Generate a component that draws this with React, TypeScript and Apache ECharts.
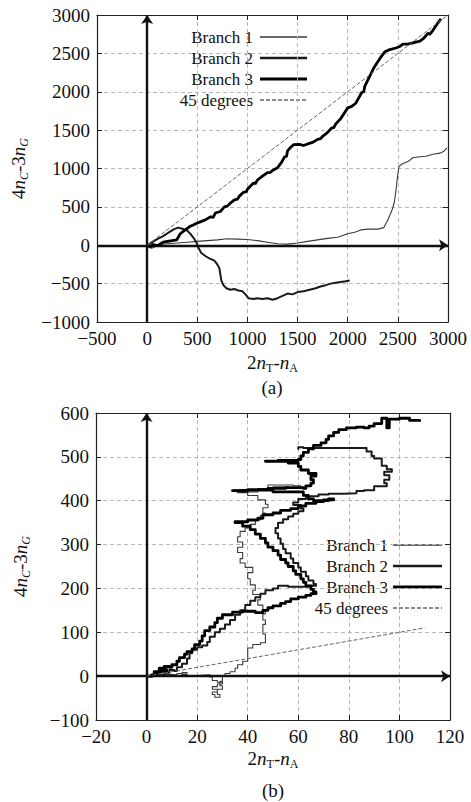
import React, { useEffect, useRef } from "react";
import * as echarts from "echarts";

const SERIF = "Liberation Serif, serif";

const seriesNames = ["Branch 1", "Branch 2", "Branch 3", "45 degrees"];

// ---------- panel (a) ----------
const aXRange = { min: -500, max: 3000, interval: 500 };
const aYRange = { min: -1000, max: 3000, interval: 500 };

const aBranch1 = [
  [0, 0], [20, -20], [45, -40], [80, -20], [120, 10], [200, 20], [300, 30], [400, 40],
  [500, 50], [600, 60], [700, 70], [800, 85], [900, 80], [1000, 75], [1100, 60],
  [1200, 40], [1300, 20], [1400, 15], [1500, 30], [1600, 50], [1700, 70], [1800, 90],
  [1900, 105], [2000, 150], [2070, 170], [2130, 200], [2200, 210], [2300, 210],
  [2360, 230], [2400, 330], [2420, 390], [2445, 470], [2465, 560], [2480, 700],
  [2495, 880], [2510, 1020], [2540, 1060], [2600, 1090], [2650, 1140], [2700, 1150],
  [2780, 1160], [2850, 1185], [2920, 1200], [2960, 1225], [2990, 1270],
];

const aBranch2 = [
  [0, 0], [50, 40], [100, 80], [160, 120], [220, 170], [270, 210], [310, 230],
  [350, 215], [400, 190], [430, 150], [460, 100], [490, 40], [510, -30], [540, -100],
  [580, -140], [620, -170], [670, -200], [700, -250], [720, -300], [730, -380],
  [740, -460], [760, -520], [790, -560], [830, -580], [870, -570], [910, -590],
  [950, -600], [980, -640], [1010, -690], [1060, -700], [1100, -690], [1150, -700],
  [1200, -690], [1250, -710], [1300, -690], [1350, -660], [1400, -630], [1450, -640],
  [1500, -610], [1560, -600], [1620, -580], [1680, -560], [1720, -540], [1780, -520],
  [1830, -500], [1880, -490], [1930, -480], [1980, -470], [2020, -460],
];

const aBranch3 = [
  [0, 0], [30, -20], [60, 10], [100, -5], [160, 40], [220, 55], [295, 70], [330, 150],
  [380, 200], [420, 240], [460, 265], [500, 290], [530, 305], [580, 330], [630, 370],
  [660, 365], [680, 420], [730, 440], [770, 500], [800, 510], [830, 550], [870, 590],
  [900, 600], [920, 640], [960, 690], [990, 700], [1000, 730], [1060, 810], [1080, 805],
  [1100, 850], [1150, 900], [1200, 945], [1230, 950], [1250, 975], [1300, 1010],
  [1340, 1080], [1370, 1150], [1390, 1160], [1400, 1230], [1430, 1275], [1460, 1310],
  [1520, 1315], [1560, 1300], [1600, 1320], [1650, 1340], [1700, 1380], [1730, 1390],
  [1750, 1420], [1800, 1470], [1840, 1530], [1860, 1530], [1880, 1580], [1930, 1650],
  [1970, 1730], [2000, 1790], [2040, 1810], [2080, 1850], [2110, 1920], [2140, 1990],
  [2160, 2000], [2170, 2070], [2200, 2150], [2230, 2230], [2260, 2310], [2290, 2370],
  [2330, 2450], [2370, 2520], [2420, 2550], [2480, 2570], [2520, 2590], [2550, 2620],
  [2600, 2620], [2660, 2640], [2720, 2660], [2760, 2700], [2800, 2760], [2820, 2750],
  [2850, 2800], [2890, 2880], [2930, 2950],
];

const aDiagonal = [[0, 0], [3000, 3000]];

// ---------- panel (b) ----------
const bXRange = { min: -20, max: 120, interval: 20 };
const bYRange = { min: -100, max: 600, interval: 100 };

const bBranch1 = [
  [0, 0], [3, 2], [6, 4], [9, 3], [12, 6], [14, 8], [16, 4], [14, 1], [18, 2], [22, 3],
  [25, -2], [26, -10], [28, -14], [30, -18], [28, -24], [26, -30], [28, -36], [26, -42],
  [27, -48], [29, -42], [28, -30], [30, -22], [29, -12], [30, 0], [31, 6], [33, 10],
  [35, 18], [36, 26], [38, 34], [40, 40], [40, 52], [40, 64], [42, 72], [45, 76],
  [47, 82], [47, 96], [46, 106], [46, 118], [47, 128], [46, 142], [47, 150], [46, 162],
  [44, 174], [45, 186], [42, 196], [43, 208], [41, 222], [40, 236], [42, 248], [39, 258],
  [37, 268], [38, 282], [36, 294], [38, 306], [36, 318], [37, 330], [39, 338], [41, 346],
  [43, 356], [45, 366], [47, 372], [46, 384], [48, 392], [47, 402], [44, 412], [40, 418],
  [36, 420], [44, 428], [50, 432], [56, 430], [61, 434], [58, 436], [52, 436], [48, 428],
];

const bBranch2 = [
  [0, 0], [3, 5], [5, 2], [7, 8], [9, 14], [11, 12], [12, 20], [14, 28], [16, 40],
  [17, 52], [18, 60], [20, 66], [22, 70], [24, 78], [25, 90], [27, 100], [29, 108],
  [31, 118], [33, 128], [35, 140], [37, 150], [39, 162], [41, 172], [43, 180], [45, 188],
  [47, 196], [50, 200], [52, 206], [56, 204], [60, 204], [64, 206], [67, 210], [66, 218],
  [64, 228], [63, 238], [61, 248], [60, 258], [58, 268], [57, 280], [55, 290], [54, 302],
  [53, 314], [52, 326], [51, 338], [52, 350], [54, 358], [56, 364], [58, 370], [60, 376],
  [62, 382], [61, 390], [58, 396], [60, 404], [63, 410], [68, 414], [72, 416], [78, 417],
  [83, 422], [86, 424], [90, 433], [95, 433], [95, 440], [94, 448], [96, 458], [94, 466],
  [97, 472], [95, 480], [93, 486], [93, 496], [90, 502], [89, 512], [87, 520], [72, 520],
  [62, 522], [60, 516],
];

const bBranch3 = [
  [0, 0], [2, 3], [4, 6], [3, 10], [6, 12], [8, 15], [5, 18], [7, 22], [9, 20], [10, 26],
  [12, 34], [13, 42], [15, 50], [16, 56], [18, 62], [19, 72], [21, 80], [22, 92],
  [23, 104], [25, 112], [27, 122], [28, 132], [30, 140], [34, 146], [38, 148], [43, 145],
  [46, 150], [48, 156], [50, 160], [53, 166], [55, 170], [57, 176], [60, 180], [63, 184],
  [65, 188], [67, 192], [66, 198], [65, 206], [63, 214], [62, 222], [61, 232], [59, 240],
  [58, 250], [56, 258], [55, 266], [53, 276], [52, 286], [50, 294], [48, 304], [47, 314],
  [45, 324], [43, 334], [41, 342], [38, 350], [35, 352], [40, 356], [44, 360], [46, 368],
  [50, 372], [53, 378], [57, 382], [60, 388], [63, 394], [67, 398], [70, 402], [74, 404],
  [72, 400], [66, 404], [64, 412], [62, 420], [50, 424], [42, 423], [34, 422], [40, 425],
  [48, 428], [55, 430], [62, 428], [63, 434], [65, 440], [66, 448], [65, 456], [67, 462],
  [64, 470], [61, 478], [60, 486], [56, 490], [47, 490], [52, 492], [60, 494], [61, 502],
  [62, 510], [64, 518], [66, 526], [69, 532], [71, 540], [72, 548], [74, 556], [76, 562],
  [79, 566], [83, 568], [86, 566], [88, 570], [90, 576], [93, 588], [95, 566], [96, 586],
  [100, 588], [104, 583], [108, 580],
];

const bDiagonal = [[0, 0], [110, 110]];

// line looks shared by both panels, in the order of seriesNames
const lineLooks = [
  { color: "#3a3a3a", width: 1.1, type: "solid" },
  { color: "#1a1a1a", width: 2, type: "solid" },
  { color: "#000000", width: 2.8, type: "solid" },
  { color: "#666666", width: 1, type: [4, 2] },
];

const minus = (v: number) => String(v).replace("-", "\u2212");

const subRich = {
  t: { fontFamily: SERIF, fontSize: 19, color: "#111", lineHeight: 24 },
  i: { fontFamily: SERIF, fontSize: 19, fontStyle: "italic", color: "#111", lineHeight: 24 },
  s: { fontFamily: SERIF, fontSize: 12, color: "#111", lineHeight: 12, verticalAlign: "bottom" },
  si: { fontFamily: SERIF, fontSize: 12, fontStyle: "italic", color: "#111", lineHeight: 12, verticalAlign: "bottom" },
};

const xTitle = "{t|2}{i|n}{s|T}{t|-}{i|n}{s|A}";
const yTitle = "{t|4}{i|n}{si|C}{t|-3}{i|n}{si|G}";

const frameLine = { show: true, onZero: false, lineStyle: { color: "#222", width: 1.2 } };
const innerTick = { show: true, inside: true, length: 5, lineStyle: { color: "#222", width: 1 } };
const gridDash = { show: true, lineStyle: { color: "#b8b8b8", type: [4, 3], width: 1 } };
const tickFont = { fontFamily: SERIF, fontSize: 19, color: "#111" };

function xAxes(gridIndex: number, r: any, nameGap: number) {
  return [
    {
      type: "value", gridIndex, position: "bottom", ...r,
      axisLine: frameLine, axisTick: innerTick, splitLine: gridDash,
      axisLabel: { ...tickFont, margin: 7, formatter: minus },
      name: xTitle, nameLocation: "middle", nameGap,
      nameTextStyle: { fontFamily: SERIF, rich: subRich },
    },
    {
      type: "value", gridIndex, position: "top", ...r,
      axisLine: frameLine, axisTick: innerTick, splitLine: { show: false },
      axisLabel: { show: false },
    },
  ];
}

function yAxes(gridIndex: number, r: any, nameGap: number) {
  return [
    {
      type: "value", gridIndex, position: "left", ...r,
      axisLine: frameLine, axisTick: innerTick, splitLine: gridDash,
      axisLabel: { ...tickFont, margin: 7, formatter: minus },
      name: yTitle, nameLocation: "middle", nameGap, nameRotate: 90,
      nameTextStyle: { fontFamily: SERIF, rich: subRich },
    },
    {
      type: "value", gridIndex, position: "right", ...r,
      axisLine: frameLine, axisTick: innerTick, splitLine: { show: false },
      axisLabel: { show: false },
    },
  ];
}

function panelSeries(axisIndex: number, sets: number[][][], step: false | "end", xr: any, yr: any) {
  const zeroAxes = {
    type: "line", xAxisIndex: axisIndex, yAxisIndex: axisIndex, data: [], z: 1, silent: true,
    markLine: {
      silent: true, symbol: ["none", "arrow"], symbolSize: 9, label: { show: false },
      lineStyle: { color: "#111", width: 2.4, type: "solid" },
      emphasis: { disabled: true },
      data: [
        [{ coord: [0, yr.min] }, { coord: [0, yr.max] }],
        [{ coord: [xr.min, 0] }, { coord: [xr.max, 0] }],
      ],
    },
  };
  const lines = sets.map((data, k) => ({
    type: "line", name: seriesNames[k], xAxisIndex: axisIndex, yAxisIndex: axisIndex,
    data, symbol: "none", z: 3 + k, silent: true,
    step: k < 3 ? step : false,
    lineStyle: { ...lineLooks[k], join: "round" },
  }));
  return [zeroAxes, ...lines];
}

function legendGraphic(textRight: number, lineX1: number, lineX2: number, rows: number[]) {
  const out: any[] = [];
  seriesNames.forEach((name, k) => {
    out.push({
      type: "text", x: textRight, y: rows[k], silent: true,
      style: { text: name, fontFamily: SERIF, fontSize: 17, fill: "#111", align: "right", verticalAlign: "middle" },
    });
    out.push({
      type: "line", silent: true,
      shape: { x1: lineX1, y1: rows[k], x2: lineX2, y2: rows[k] },
      style: { stroke: lineLooks[k].color, lineWidth: lineLooks[k].width + 0.4, lineDash: k === 3 ? [4, 2] : null },
    });
  });
  return out;
}

export default function App() {
  const ref = useRef<HTMLDivElement>(null);

  useEffect(() => {
    if (!ref.current) return;
    const chart = echarts.init(ref.current, undefined, { renderer: "svg" });
    chart.setOption({
      animation: false,
      backgroundColor: "#ffffff",
      textStyle: { fontFamily: SERIF },
      grid: [
        { left: 97, top: 15, width: 351, height: 307 },
        { left: 96, top: 413, width: 354, height: 307 },
      ],
      xAxis: [...xAxes(0, aXRange, 28), ...xAxes(1, bXRange, 26)],
      yAxis: [...yAxes(0, aYRange, 64), ...yAxes(1, bYRange, 64)],
      series: [
        ...panelSeries(0, [aBranch1, aBranch2, aBranch3, aDiagonal], false, aXRange, aYRange),
        ...panelSeries(2, [bBranch1, bBranch2, bBranch3, bDiagonal], "end", bXRange, bYRange),
      ],
      graphic: [
        ...legendGraphic(253, 260, 307, [37, 58, 79, 100]),
        ...legendGraphic(388, 393, 442, [545, 566, 587, 608]),
        {
          type: "text", x: 272, y: 387, silent: true,
          style: { text: "(a)", fontFamily: SERIF, fontSize: 19, fill: "#111", align: "center", verticalAlign: "middle" },
        },
        {
          type: "text", x: 273, y: 790, silent: true,
          style: { text: "(b)", fontFamily: SERIF, fontSize: 19, fill: "#111", align: "center", verticalAlign: "middle" },
        },
      ],
    });
    return () => chart.dispose();
  }, []);

  return (
    <div
      ref={ref}
      style={{ position: "fixed", left: 0, top: 0, width: 471, height: 802, background: "#fff" }}
    />
  );
}
